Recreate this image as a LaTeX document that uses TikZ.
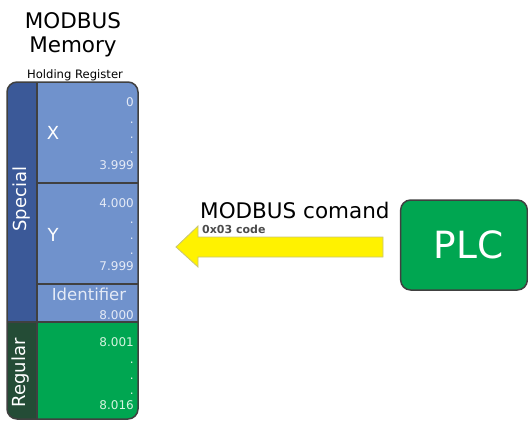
\documentclass[tikz,border=0pt]{standalone}
\usepackage{fontspec}
\setmainfont{DejaVu Sans}
\usetikzlibrary{positioning}
\definecolor{spblue}{RGB}{59,89,152}
\definecolor{cellblue}{RGB}{112,146,204}
\definecolor{rgdark}{RGB}{36,76,54}
\definecolor{rggreen}{RGB}{0,166,81}
\definecolor{cmdyellow}{RGB}{255,242,0}
\definecolor{cmdedge}{RGB}{200,196,120}
\definecolor{edgegray}{RGB}{64,64,64}
\definecolor{addrblue}{RGB}{228,234,246}
\definecolor{addrgreen}{RGB}{214,244,224}
\tikzset{
  addr/.style={anchor=base east, inner sep=0pt, font=\fontsize{12}{14}\selectfont},
  cellname/.style={anchor=base, inner sep=0pt, white, font=\fontsize{18}{21}\selectfont},
  sidelbl/.style={rotate=90, inner sep=0pt, white, font=\fontsize{18}{21}\selectfont},
  divider/.style={edgegray, line width=1.5pt},
  plcbox/.style={draw=edgegray, line width=1.5pt, fill=rggreen, rounded corners=10pt,
    minimum width=126pt, minimum height=90pt, text=white, font=\fontsize{37.5}{42}\selectfont}
}
\begin{document}
\begin{tikzpicture}[x=1pt, y=-1pt]
  \useasboundingbox (0,0) rectangle (528,421);

  % --- Memory titles ---
  \node[anchor=base, inner sep=0pt, font=\fontsize{21.5}{25}\selectfont] (title1) at (73,28) {MODBUS};
  \node[anchor=base, inner sep=0pt, font=\fontsize{21.5}{25}\selectfont] (title2) at (73,52) {Memory};
  \node[anchor=base, inner sep=0pt, font=\fontsize{11.6}{13}\selectfont] (holdreg) at (75,78) {Holding Register};

  % --- Memory block fills ---
  \begin{scope}
    \clip[rounded corners=10pt] (7,82) rectangle (138,419);
    \fill[spblue]   (7,82)   rectangle (37,322);
    \fill[cellblue] (37,82)  rectangle (138,322);
    \fill[rgdark]   (7,322)  rectangle (37,419);
    \fill[rggreen]  (37,322) rectangle (138,419);
  \end{scope}
  \draw[divider] (37,82) -- (37,419);
  \draw[divider] (37,183) -- (138,183);
  \draw[divider] (37,284) -- (138,284);
  \draw[divider] (7,322) -- (138,322);
  \draw[divider, rounded corners=10pt] (7,82) rectangle (138,419);

  % --- Side labels ---
  \node[sidelbl] (special) at (22,199) {Special};
  \node[sidelbl] (regular) at (21,373) {Regular};

  % --- X cell ---
  \node[cellname] (xname) at (53,139) {X};
  \node[addr, addrblue] (xfirst) at (134,106) {0};
  \foreach \yy [count=\i] in {123,138,153}
    \node[addr, addrblue] (xdot\i) at (134,\yy) {.};
  \node[addr, addrblue] (xlast) at (134,169) {3.999};

  % --- Y cell ---
  \node[cellname] (yname) at (53,241) {Y};
  \node[addr, addrblue] (yfirst) at (134,207) {4.000};
  \foreach \yy [count=\i] in {223,239,254}
    \node[addr, addrblue] (ydot\i) at (134,\yy) {.};
  \node[addr, addrblue] (ylast) at (134,270) {7.999};

  % --- Identifier cell ---
  \node[anchor=base, inner sep=0pt, addrblue, font=\fontsize{16.5}{19}\selectfont] (idname) at (89,300) {Identifier};
  \node[addr, addrblue] (idaddr) at (134,319) {8.000};

  % --- Regular cell ---
  \node[addr, addrgreen] (rfirst) at (134,346) {8.001};
  \foreach \yy [count=\i] in {363,379,394}
    \node[addr, addrgreen] (rdot\i) at (134,\yy) {.};
  \node[addr, addrgreen] (rlast) at (134,409) {8.016};

  % --- Command arrow ---
  \draw[cmdedge, fill=cmdyellow, line width=0.8pt]
    (383,237) -- (198,237) -- (198,226) -- (176,247) -- (198,267) -- (198,257) -- (383,257) -- cycle;
  \node[anchor=base west, inner sep=0pt, font=\fontsize{21.5}{25}\selectfont] (cmd) at (200,218) {MODBUS comand};
  \node[anchor=base west, inner sep=0pt, black!70, font=\bfseries\fontsize{11}{13}\selectfont] (code) at (202,233) {0x03 code};

  % --- PLC ---
  \node[plcbox, text width=120pt, align=center] (plc) at (464,245) {\hspace*{9pt}PLC};
\end{tikzpicture}
\end{document}
